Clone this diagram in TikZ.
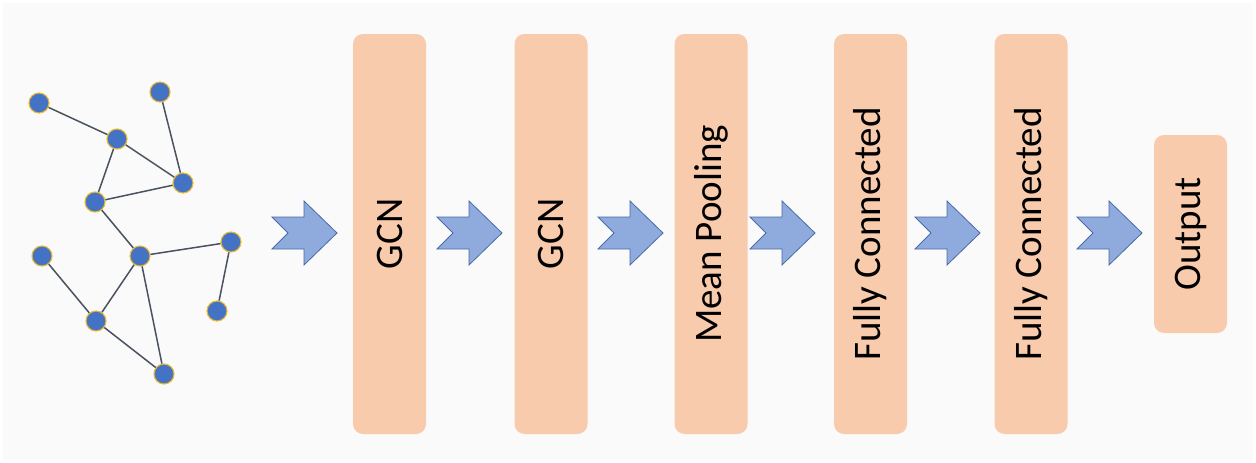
\documentclass[tikz,border=0pt]{standalone}
\usepackage{fontspec}
\setmainfont{Carlito}
\definecolor{panel}{HTML}{FAFAFA}
\definecolor{layerfill}{HTML}{F8CBAD}
\definecolor{arrowfill}{HTML}{8FAADC}
\definecolor{arrowline}{HTML}{4A6BA8}
\definecolor{vertexfill}{HTML}{4472C4}
\definecolor{vertexring}{HTML}{E8B830}
\definecolor{edgecol}{HTML}{4A5260}
\begin{document}
\begin{tikzpicture}[x=1pt,y=-1pt,
  vertex/.style={circle,fill=vertexfill,draw=vertexring,line width=1.1pt,minimum size=20pt,inner sep=0pt},
  link/.style={draw=edgecol,line width=1.5pt},
  layer/.style={rectangle,rounded corners=10pt,fill=layerfill,draw=none,minimum width=73pt,inner sep=0pt},
  layertext/.style={rotate=90,font=\fontsize{39}{44}\selectfont,text=black},
  blockarrow/.style={fill=arrowfill,draw=arrowline,line width=0.8pt,line join=miter}]
% canvas
\fill[white] (0,0) rectangle (1256,463);
\fill[panel] (3,3) rectangle (1253,460);
\useasboundingbox (0,0) rectangle (1256,463);

% input graph
\node[vertex] (v1)  at (39,103) {};
\node[vertex] (v2)  at (160,92) {};
\node[vertex] (v3)  at (117,139) {};
\node[vertex] (v4)  at (183,183) {};
\node[vertex] (v5)  at (95,202) {};
\node[vertex] (v6)  at (42,256) {};
\node[vertex] (v7)  at (140,256) {};
\node[vertex] (v8)  at (231,242) {};
\node[vertex] (v9)  at (217,311) {};
\node[vertex] (v10) at (96,321) {};
\node[vertex] (v11) at (164,374) {};
\foreach \a/\b in {v1/v3,v2/v4,v3/v4,v3/v5,v5/v4,v5/v7,v7/v8,v8/v9,v6/v10,v7/v10,v7/v11,v10/v11}
  \draw[link] (\a) -- (\b);

% network layers
\node[layer,minimum height=400pt] (l1) at (389.5,234) {};
\node[layer,minimum height=400pt] (l2) at (551,234) {};
\node[layer,minimum height=400pt] (l3) at (711,234) {};
\node[layer,minimum height=400pt] (l4) at (870.5,234) {};
\node[layer,minimum height=400pt] (l5) at (1031,234) {};
\node[layer,minimum height=198pt] (l6) at (1190.5,234) {};
\node[layertext] (t1) at (l1) {GCN};
\node[layertext] (t2) at (l2) {GCN};
\node[layertext] (t3) at (l3) {Mean Pooling};
\node[layertext] (t4) at (l4) {Fully Connected};
\node[layertext] (t5) at (l5) {Fully Connected};
\node[layertext] (t6) at (l6) {Output};

% notched block arrows between stages
\foreach \x in {272,437,598,750,915,1077}{
  \coordinate (a\x) at (\x,233);
  \draw[blockarrow] (a\x) ++(0,-16) -- ++(16,16) -- ++(-16,16) -- ++(32,0)
    -- ++(0,16) -- ++(33,-32) -- ++(-33,-32) -- ++(0,16) -- cycle;
}
\end{tikzpicture}
\end{document}
